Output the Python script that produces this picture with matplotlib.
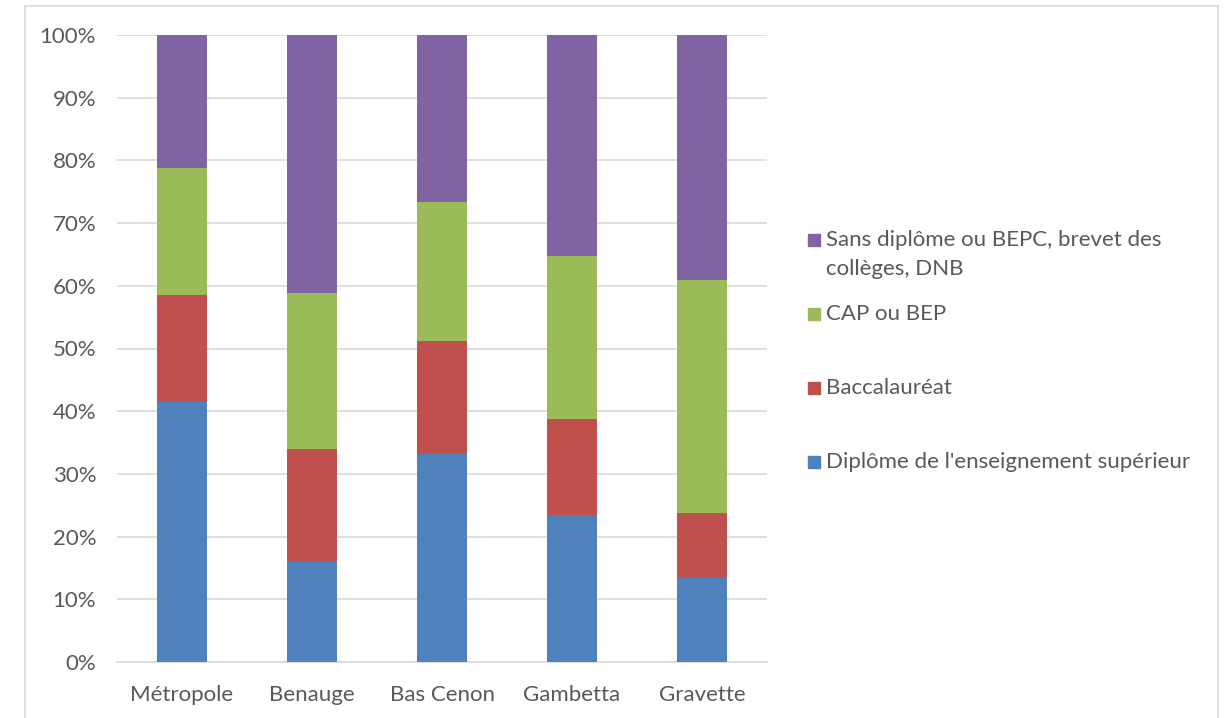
import matplotlib
matplotlib.use("Agg")
import matplotlib.pyplot as plt
from matplotlib.patches import Rectangle
import numpy as np

plt.rcParams['font.family'] = ['Lato', 'DejaVu Sans']

categories = ["Métropole", "Benauge", "Bas Cenon", "Gambetta", "Gravette"]
series_names = [
    "Diplôme de l'enseignement supérieur",
    "Baccalauréat",
    "CAP ou BEP",
    "Sans diplôme ou BEPC, brevet des\ncollèges, DNB",
]
superieur = [41.4, 15.9, 33.2, 23.4, 13.4]
bac = [17.1, 18.1, 18.0, 15.3, 10.3]
cap_bep = [20.3, 24.9, 22.1, 26.1, 37.2]
sans_diplome = [21.2, 41.1, 26.7, 35.2, 39.1]
colors = ["#4F81BD", "#C0504D", "#9BBB59", "#8064A2"]
yticks = [0, 10, 20, 30, 40, 50, 60, 70, 80, 90, 100]

W, H = 1224, 718
fig = plt.figure(figsize=(W / 100, H / 100), dpi=100)
ax = fig.add_axes([117 / W, 1 - 662 / H, 650 / W, 627 / H])

text_color = "#595959"
grid_color = "#D9D9D9"
fs = 16

x = np.arange(len(categories))
bottom = np.zeros(len(categories))
for vals, col in zip([superieur, bac, cap_bep, sans_diplome], colors):
    ax.bar(x, vals, width=0.39, bottom=bottom, color=col, zorder=3)
    bottom += np.array(vals)

ax.set_xlim(-0.5, len(categories) - 0.5)
ax.set_ylim(0, 100)
ax.set_yticks(yticks)
ax.set_yticklabels([f"{v}%" for v in yticks])
ax.set_xticks(x)
ax.set_xticklabels(categories)
ax.yaxis.grid(True, color=grid_color, linewidth=1.2, zorder=0)
ax.set_axisbelow(True)
for side in ["top", "right", "left"]:
    ax.spines[side].set_visible(False)
ax.spines["bottom"].set_color(grid_color)
ax.spines["bottom"].set_linewidth(1.2)
ax.tick_params(axis="both", length=0, labelsize=fs, colors=text_color)
ax.tick_params(axis="y", pad=15)
ax.tick_params(axis="x", pad=16.5)

# legend, drawn in reverse stacking order
legend_y = [240, 314, 388, 462]
for name, col, yy in zip(series_names[::-1], colors[::-1], legend_y):
    fig.add_artist(Rectangle((808 / W, 1 - (yy + 6) / H), 12 / W, 12 / H,
                             transform=fig.transFigure, color=col))
    first, *rest = name.split("\n")
    fig.text(826 / W, 1 - yy / H, first, fontsize=fs, color=text_color,
             va="center", ha="left")
    for i, line in enumerate(rest):
        fig.text(826 / W, 1 - (yy + 29 * (i + 1)) / H, line, fontsize=fs,
                 color=text_color, va="center", ha="left")

# chart area frame
fig.add_artist(Rectangle((25 / W, -20 / H), 1193 / W, (H - 6 + 20) / H,
                         transform=fig.transFigure, fill=False,
                         edgecolor=grid_color, linewidth=1.2))

fig.savefig("out.png", dpi=100)
